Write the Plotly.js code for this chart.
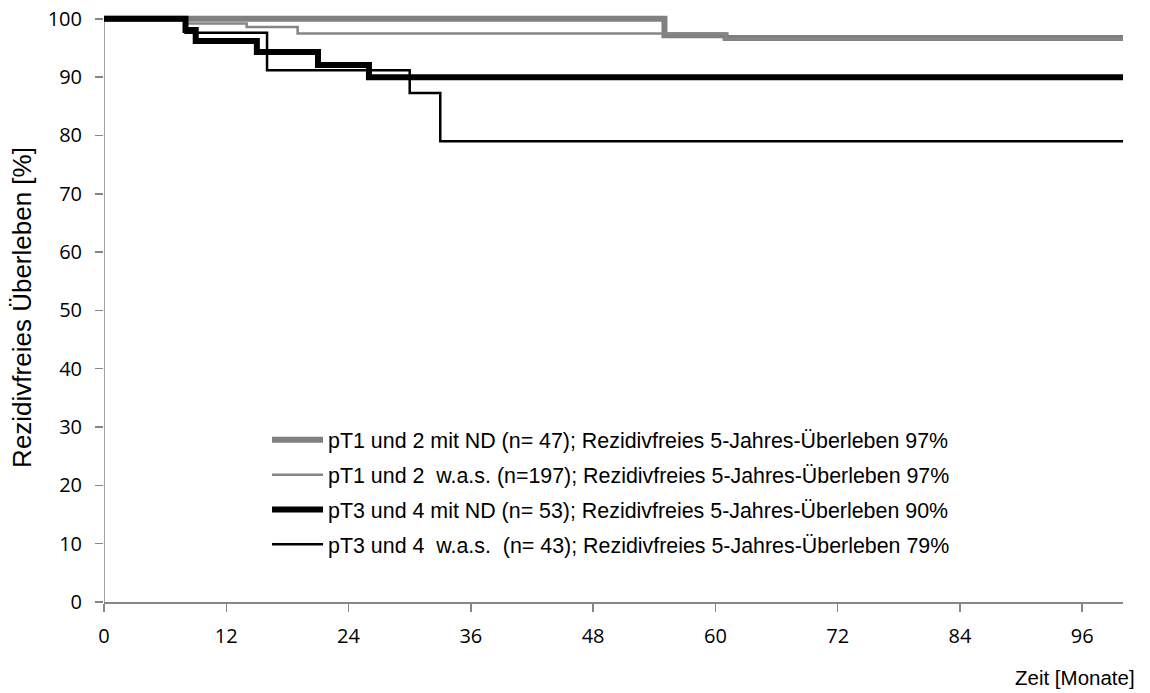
<!DOCTYPE html>
<html>
<head>
<meta charset="utf-8">
<script src="https://cdn.plot.ly/plotly-3.0.1.min.js"></script>
<style>html,body{margin:0;padding:0;background:#fff;}#chart{width:1150px;height:693px;}</style>
</head>
<body>
<div id="chart"></div>
<script>
// Months (event times) and relapse-free survival (%) per group
const monthsPT12ND  = [0, 55, 61, 100];
const survPT12ND    = [100, 97.2, 96.7, 96.7];
const monthsPT12WAS = [0, 8, 14, 19, 61, 100];
const survPT12WAS   = [100, 99.2, 98.6, 97.5, 96.5, 96.5];
const monthsPT34ND  = [0, 8, 9, 15, 21, 26, 100];
const survPT34ND    = [100, 98.1, 96.2, 94.3, 92.1, 90.0, 90.0];
const monthsPT34WAS = [0, 8, 16, 30, 33, 100];
const survPT34WAS   = [100, 97.6, 91.2, 87.3, 79.0, 79.0];

const seriesNames = [
  "pT1 und 2 mit ND (n= 47); Rezidivfreies 5-Jahres-Überleben 97%",
  "pT1 und 2\u00a0\u00a0w.a.s. (n=197); Rezidivfreies 5-Jahres-Überleben 97%",
  "pT3 und 4 mit ND (n= 53); Rezidivfreies 5-Jahres-Überleben 90%",
  "pT3 und 4\u00a0\u00a0w.a.s.\u00a0\u00a0(n= 43); Rezidivfreies 5-Jahres-Überleben 79%"
];
const xTicks = [0, 12, 24, 36, 48, 60, 72, 84, 96];
const yTicks = [0, 10, 20, 30, 40, 50, 60, 70, 80, 90, 100];

function stepTrace(x, y, name, color, width, group) {
  return {x: x, y: y, name: name, type: 'scatter', mode: 'lines',
          line: {shape: 'hv', color: color, width: width},
          legendgroup: group, hoverinfo: 'skip'};
}

const data = [
  stepTrace(monthsPT12ND, survPT12ND, seriesNames[0], '#808080', 6, 'a'),
  stepTrace(monthsPT12WAS, survPT12WAS, seriesNames[1], '#868686', 2.5, 'b'),
  stepTrace(monthsPT34ND, survPT34ND, seriesNames[2], '#000000', 6, 'c'),
  stepTrace(monthsPT34WAS, survPT34WAS, seriesNames[3], '#000000', 2.5, 'd')
];

const layout = {
  width: 1150, height: 693,
  margin: {l: 104, r: 27, t: 13, b: 91},
  paper_bgcolor: '#ffffff', plot_bgcolor: '#ffffff',
  showlegend: true,
  legend: {x: 0.16, y: 0.31, xanchor: 'left', yanchor: 'top', itemwidth: 51,
           font: {family: 'Liberation Sans, Arial, sans-serif', size: 21.4, color: '#000'},
           bgcolor: 'rgba(0,0,0,0)', tracegroupgap: 4, traceorder: 'grouped'},
  xaxis: {range: [0, 100], tickvals: xTicks, ticktext: xTicks.map(String),
          showgrid: false, zeroline: false, showline: true, linecolor: '#868686', linewidth: 1.5,
          ticks: 'outside', ticklen: 8, tickcolor: '#868686', tickwidth: 1.5,
          ticklabelstandoff: 7,
          tickfont: {family: 'Open Sans, sans-serif', size: 20, color: '#000'}},
  yaxis: {range: [0, 101], tickvals: yTicks, ticktext: yTicks.map(String),
          showgrid: false, zeroline: false, showline: false,
          ticks: 'outside', ticklen: 8, tickcolor: '#868686', tickwidth: 1.5,
          ticklabelstandoff: 9,
          tickfont: {family: 'Open Sans, sans-serif', size: 20, color: '#000'},
          title: {text: 'Rezidivfreies Überleben [%]', standoff: 8,
                  font: {family: 'Liberation Sans, Arial, sans-serif', size: 26, color: '#000'}}},
  shapes: [
    {type: 'line', xref: 'x', yref: 'y', x0: 0, x1: 0, y0: 0, y1: 100,
     line: {color: '#868686', width: 1.5}, layer: 'below'}
  ],
  annotations: [
    {text: 'Zeit [Monate]', xref: 'paper', yref: 'paper', x: 1.014, y: -0.129,
     xanchor: 'right', yanchor: 'middle', showarrow: false,
     font: {family: 'Liberation Sans, Arial, sans-serif', size: 20.5, color: '#000'}}
  ]
};

Plotly.newPlot('chart', data, layout, {displayModeBar: false, staticPlot: true});
</script>
</body>
</html>
